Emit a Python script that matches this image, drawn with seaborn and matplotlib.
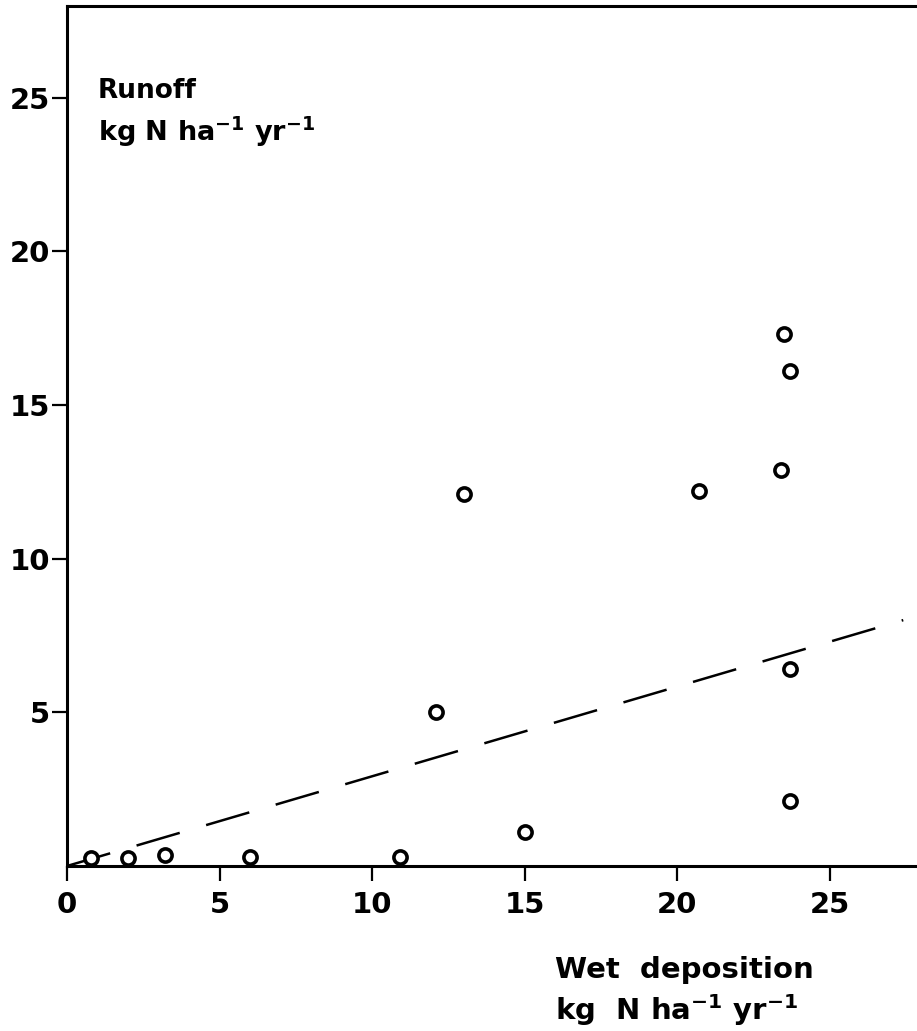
import numpy as np
import pandas as pd
import matplotlib
matplotlib.use('Agg')
import matplotlib.pyplot as plt
import seaborn as sns

# Data
wet_deposition = [0.8, 2.0, 3.2, 6.0, 10.9, 12.1, 13.0, 15.0, 20.7, 23.4, 23.5, 23.7, 23.7, 23.7]
runoff = [0.25, 0.25, 0.35, 0.3, 0.3, 5.0, 12.1, 1.1, 12.2, 12.9, 17.3, 16.1, 6.4, 2.1]

# dashed fitted line (end points)
fit_deposition = [0.0, 27.4]
fit_runoff = [0.0, 8.0]

x_ticks = [0, 5, 10, 15, 20, 25]
y_ticks = [5, 10, 15, 20, 25]

points = pd.DataFrame({'dep': wet_deposition, 'runoff': runoff})
fit = pd.DataFrame({'dep': fit_deposition, 'runoff': fit_runoff})

sns.set_style('ticks')
plt.rcParams['font.family'] = ['DejaVu Sans']
plt.rcParams['font.weight'] = 'bold'
plt.rcParams['text.color'] = 'black'
plt.rcParams['mathtext.fontset'] = 'dejavusans'
plt.rcParams['mathtext.default'] = 'bf'

fig = plt.figure(figsize=(9.17, 10.31), dpi=100)
ax = fig.add_axes([67 / 917, 165 / 1031, 850 / 917, 860 / 1031])

sns.lineplot(data=fit, x='dep', y='runoff', ax=ax, color='black', linewidth=1.8,
             linestyle=(0, (18, 11)))
sns.scatterplot(data=points, x='dep', y='runoff', ax=ax, s=90, marker='o',
                facecolor='white', edgecolor='black', linewidth=2.6, zorder=3)

ax.set_xlim(0, 27.85)
ax.set_ylim(0, 27.98)
ax.set_xticks(x_ticks)
ax.set_yticks(y_ticks)
ax.set_xlabel('')
ax.set_ylabel('')

for side in ['left', 'bottom', 'top']:
    ax.spines[side].set_linewidth(2.2)
    ax.spines[side].set_color('black')
ax.spines['right'].set_visible(False)

ax.tick_params(axis='both', direction='out', length=11, width=1.6, labelsize=21, colors='black')
ax.tick_params(axis='y', pad=1)
ax.tick_params(axis='x', pad=7)

W, H = 917, 1031
fig.text(98 / W, 1 - 98 / H, 'Runoff', fontsize=19, fontweight='bold', va='baseline')
fig.text(98 / W, 1 - 141 / H, r'kg N ha$^{-1}$ yr$^{-1}$', fontsize=19.5, fontweight='bold', va='baseline')
fig.text(555 / W, 1 - 978 / H, 'Wet  deposition', fontsize=21, fontweight='bold', va='baseline')
fig.text(555 / W, 1 - 1020 / H, r'kg  N ha$^{-1}$ yr$^{-1}$', fontsize=21, fontweight='bold', va='baseline')

fig.savefig('out.png', dpi=100, facecolor='white')
